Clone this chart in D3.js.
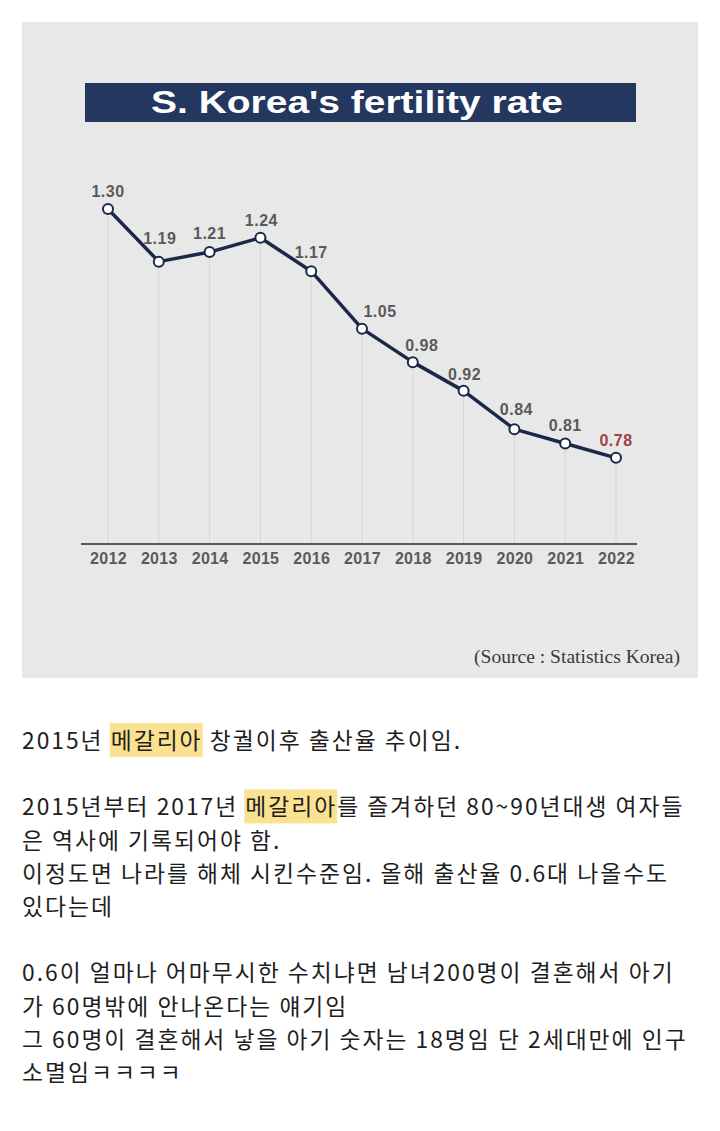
<!DOCTYPE html>
<html><head><meta charset="utf-8">
<script src="https://cdn.jsdelivr.net/npm/d3@7"></script>
<style>
html,body{margin:0;padding:0;background:#fff;}
svg{display:block;}
</style></head>
<body>
<svg id="chart" width="720" height="1131"></svg>
<script>
const years = ["2012","2013","2014","2015","2016","2017","2018","2019","2020","2021","2022"];
const rates = [1.30,1.19,1.21,1.24,1.17,1.05,0.98,0.92,0.84,0.81,0.78];
const title = "S. Korea's fertility rate";
const source = "(Source : Statistics Korea)";
const bodyLines = [
  ["2015년 ", "*메갈리아", " 창궐이후 출산율 추이임."],
  [],
  ["2015년부터 2017년 ", "*메갈리아", "를 즐겨하던 80~90년대생 여자들"],
  ["은 역사에 기록되어야 함."],
  ["이정도면 나라를 해체 시킨수준임. 올해 출산율 0.6대 나올수도"],
  ["있다는데"],
  [],
  ["0.6이 얼마나 어마무시한 수치냐면 남녀200명이 결혼해서 아기"],
  ["가 60명밖에 안나온다는 얘기임"],
  ["그 60명이 결혼해서 낳을 아기 숫자는 18명임 단 2세대만에 인구"],
  ["소멸임ㅋㅋㅋㅋ"]
];

const svg = d3.select("#chart");

// panel
svg.append("rect").attr("x",22).attr("y",22).attr("width",676).attr("height",656).attr("fill","#e9e8e9");

// title bar
svg.append("rect").attr("x",85).attr("y",83).attr("width",551).attr("height",39).attr("fill","#23375f");
svg.append("text").attr("x",357).attr("y",113).attr("text-anchor","middle")
  .attr("font-family","Liberation Sans, Arial, sans-serif").attr("font-weight","bold")
  .attr("font-size",31).attr("fill","#fff").attr("textLength",412).attr("lengthAdjust","spacingAndGlyphs")
  .text(title);

const x = d3.scalePoint().domain(years).range([108,616]);
const y = d3.scaleLinear().domain([0.6,1.3]).range([544,209]);

// gridlines
svg.append("g").selectAll("line").data(years).join("line")
  .attr("x1",d=>x(d)).attr("x2",d=>x(d))
  .attr("y1",(d,i)=>y(rates[i])).attr("y2",y(0.6))
  .attr("stroke","#d6d5d6").attr("stroke-width",1);

// axis
const axis = d3.axisBottom(x).tickSize(0).tickPadding(9);
const gAx = svg.append("g").attr("transform",`translate(0,${y(0.6)})`).call(axis);
gAx.select(".domain").remove();
gAx.selectAll("text").attr("font-family","Liberation Sans, Arial, sans-serif").attr("font-weight","bold")
  .attr("font-size",16).attr("fill","#5a5a5a").attr("letter-spacing","0.3");
svg.append("line").attr("x1",x(years[0])-27).attr("x2",x(years[years.length-1])+21)
  .attr("y1",y(0.6)).attr("y2",y(0.6)).attr("stroke","#5a5a5a").attr("stroke-width",2);

// line
const line = d3.line().x((d,i)=>x(years[i])).y(d=>y(d));
svg.append("path").datum(rates).attr("d",line).attr("fill","none")
  .attr("stroke","#1b2847").attr("stroke-width",3.5).attr("stroke-linejoin","round");

svg.append("g").selectAll("circle").data(rates).join("circle")
  .attr("cx",(d,i)=>x(years[i])).attr("cy",d=>y(d)).attr("r",5)
  .attr("fill","#fff").attr("stroke","#1b2847").attr("stroke-width",2);

// value labels (nudges for legibility)
const nudgeX = [0,1,0,1,0,18,9,1,2,0,0];
const nudgeY = [-18,-24,-19,-18,-19,-18,-17,-17,-20,-19,-18];
svg.append("g").selectAll("text").data(rates).join("text")
  .attr("x",(d,i)=>x(years[i])+nudgeX[i]).attr("y",(d,i)=>y(d)+nudgeY[i]+6)
  .attr("text-anchor","middle")
  .attr("font-family","Liberation Sans, Arial, sans-serif").attr("font-weight","bold").attr("font-size",16)
  .attr("letter-spacing","0.5")
  .attr("fill",(d,i)=>i===rates.length-1?"#a4403f":"#5a5a5a")
  .text(d=>d3.format(".2f")(d));

// source
svg.append("text").attr("x",680).attr("y",663).attr("text-anchor","end")
  .attr("font-family","Liberation Serif, Times New Roman, serif").attr("font-size",19).attr("fill","#3a3a3a")
  .attr("textLength",206).attr("lengthAdjust","spacingAndGlyphs")
  .text(source);

// body text
const top0 = 749, lh = 33.2;
const hlLayer = svg.append("g");
const txtLayer = svg.append("g");
bodyLines.forEach((parts,li)=>{
  if(!parts.length) return;
  const t = txtLayer.append("text").attr("x",22).attr("y",top0+li*lh)
    .attr("font-family","'Noto Sans CJK KR', 'Noto Sans', sans-serif").attr("font-size",22.8)
    .attr("letter-spacing","2").attr("fill","#1e1e1e");
  let idx=0; const marks=[];
  parts.forEach(p=>{
    const hl = p.startsWith("*"); const s = hl?p.slice(1):p;
    t.append("tspan").text(s);
    if(hl) marks.push([idx,s.length]);
    idx += s.length;
  });
  marks.forEach(([st,n])=>{
    const node=t.node();
    const sx=node.getStartPositionOfChar(st).x;
    const ex=node.getEndPositionOfChar(st+n-1).x;
    hlLayer.append("rect").attr("x",sx-1).attr("y",top0+li*lh-26).attr("width",ex-sx+1).attr("height",34).attr("fill","#fbe291");
  });
});
</script>
</body></html>
